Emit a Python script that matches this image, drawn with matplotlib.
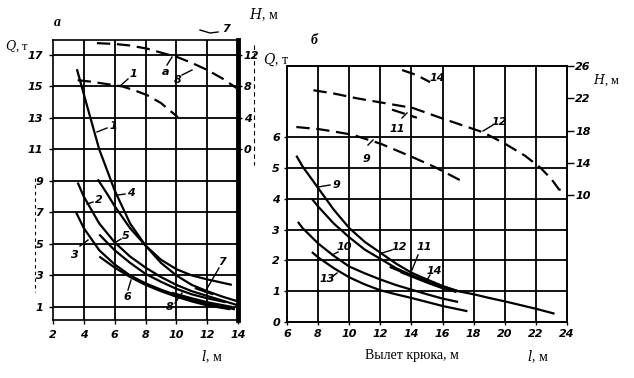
import matplotlib
matplotlib.use("Agg")
import matplotlib.pyplot as plt
from matplotlib.lines import Line2D

plt.rcParams["mathtext.fontset"] = "dejavuserif"

# ---------------- data: panel a ----------------
a_c1_x = [3.55, 4.2, 5.0, 6.0, 7.0, 8.0, 9.0, 10.0, 11.0, 12.0, 13.6]
a_c1_q = [16.1, 13.8, 11.0, 8.4, 6.3, 4.9, 4.0, 3.4, 3.0, 2.75, 2.4]
a_c4_x = [4.9, 5.5, 6.0, 7.0, 8.0, 9.0, 10.0, 11.0, 12.0, 13.0, 14.0]
a_c4_q = [9.1, 8.2, 7.4, 6.0, 4.9, 3.8, 3.0, 2.4, 2.0, 1.65, 1.35]
a_c2_x = [3.6, 4.0, 5.0, 6.0, 7.0, 8.0, 9.0, 10.0, 11.0, 12.0, 13.0, 14.0]
a_c2_q = [8.9, 8.0, 6.3, 5.1, 4.2, 3.5, 2.9, 2.4, 2.0, 1.7, 1.4, 1.1]
a_c3_x = [3.5, 4.0, 5.0, 6.0, 7.0, 8.0, 9.0, 10.0, 11.0, 12.0, 13.8]
a_c3_q = [7.0, 6.0, 4.6, 3.7, 3.0, 2.5, 2.1, 1.75, 1.45, 1.2, 0.85]
a_c5_x = [5.0, 6.0, 7.0, 8.0, 9.0, 10.0, 11.0, 12.0, 13.2]
a_c5_q = [5.6, 4.6, 3.8, 3.1, 2.6, 2.15, 1.8, 1.55, 1.3]
a_c6_x = [5.0, 6.0, 7.0, 8.0, 9.0, 10.0, 11.0, 12.0, 13.5]
a_c6_q = [4.2, 3.5, 2.9, 2.4, 2.0, 1.65, 1.35, 1.1, 0.85]
a_c7_x = [11.2, 12.4]
a_c7_q = [2.2, 1.8]
a_c8_x = [9.7, 11.0, 12.0, 13.6]
a_c8_q = [1.9, 1.55, 1.3, 1.0]
# heights (H, m) on right axis
a_h1_x = [3.6, 4.5, 5.5, 6.5, 7.3, 8.1, 9.0, 10.1]
a_h1_h = [8.8, 8.6, 8.3, 8.0, 7.5, 6.9, 5.9, 4.1]
a_h7_x = [4.85, 6.0, 7.0, 8.1, 9.0, 10.1, 11.0, 12.0, 13.0, 13.9]
a_h7_h = [13.5, 13.4, 13.2, 12.8, 12.3, 11.7, 11.0, 10.1, 9.0, 7.8]

a_xticks = [2, 4, 6, 8, 10, 12, 14]
a_qticks = [1, 3, 5, 7, 9, 11, 13, 15, 17]
a_hticks = [0, 4, 8, 12]

# ---------------- data: panel б ----------------
b_c9_x = [6.6, 7.0, 8.0, 9.0, 10.0, 11.0, 12.0, 13.0, 14.0, 15.0, 16.0, 17.0]
b_c9_q = [5.4, 5.05, 4.35, 3.65, 3.05, 2.6, 2.25, 1.9, 1.6, 1.38, 1.17, 1.0]
b_c12_x = [7.6, 8.0, 9.0, 10.0, 11.0, 12.0, 13.0, 14.0, 15.0, 16.0, 17.0, 18.0, 19.0, 20.0, 21.0, 22.0, 23.2]
b_c12_q = [4.0, 3.75, 3.2, 2.75, 2.35, 2.05, 1.75, 1.52, 1.33, 1.15, 1.0, 0.9, 0.78, 0.67, 0.55, 0.43, 0.27]
b_c11_x = [12.6, 13.5, 14.5, 15.5, 16.9]
b_c11_q = [1.79, 1.6, 1.4, 1.2, 0.97]
b_c14_x = [13.3, 14.0, 15.0, 16.2]
b_c14_q = [1.62, 1.48, 1.28, 1.06]
b_c10_x = [6.7, 7.0, 8.0, 9.0, 10.0, 11.0, 12.0, 13.0, 14.0, 15.0, 16.0, 17.0]
b_c10_q = [3.25, 3.05, 2.55, 2.15, 1.8, 1.58, 1.38, 1.2, 1.05, 0.9, 0.76, 0.65]
b_c13_x = [7.6, 8.0, 9.0, 10.0, 11.0, 12.0, 13.0, 14.0, 15.0, 16.0, 17.6]
b_c13_q = [2.27, 2.1, 1.75, 1.45, 1.22, 1.03, 0.9, 0.78, 0.65, 0.52, 0.35]
b_h14_x = [13.4, 14.3, 15.2]
b_h14_h = [25.5, 24.9, 24.0]
b_h11_x = [12.75, 14.35]
b_h11_h = [20.6, 19.6]
b_h12_x = [7.7, 9.0, 10.5, 12.0, 14.1, 16.0, 18.6, 20.0, 21.3, 22.3, 23.0, 23.5, 24.0]
b_h12_h = [23.0, 22.6, 22.0, 21.5, 20.8, 19.5, 17.8, 16.4, 14.9, 13.4, 12.0, 10.7, 10.7]
b_h9_x = [6.6, 8.0, 9.0, 10.2, 12.0, 14.1, 15.5, 16.5, 17.3]
b_h9_h = [18.45, 18.2, 17.9, 17.5, 16.4, 14.7, 13.5, 12.5, 11.7]

b_xticks = [6, 8, 10, 12, 14, 16, 18, 20, 22, 24]
b_qticks = [0, 1, 2, 3, 4, 5, 6]
b_hticks = [10, 14, 18, 22, 26]

# ---------------- figure ----------------
W, H = 634, 378
fig = plt.figure(figsize=(W / 100, H / 100), dpi=100)

def rect(x0, y0, x1, y1):
    return [x0 / W, 1 - y1 / H, (x1 - x0) / W, (y1 - y0) / H]

tickfont = dict(family="DejaVu Sans", style="italic", weight="bold", size=8)
serif = "Liberation Serif"
LW = 1.6
DASH = (0, (6, 3))

# ----- panel a -----
axa = fig.add_axes(rect(53, 40, 238, 320))
axa.set_xlim(2, 14)
axa.set_ylim(0.17, 17.95)
for v in [4, 6, 8, 10, 12]:
    axa.axvline(v, color="black", lw=1.3)
for v in a_qticks:
    axa.axhline(v, color="black", lw=1.3)
for s in ["left", "bottom", "top"]:
    axa.spines[s].set_linewidth(1.2)
axa.spines["right"].set_linewidth(3.5)
axa.set_xticks(a_xticks)
axa.set_xticklabels([str(v) for v in a_xticks], fontdict=tickfont)
axa.set_yticks(a_qticks)
axa.set_yticklabels([str(v) for v in a_qticks], fontdict=tickfont)
axa.tick_params(length=3, width=1, pad=4)

for xs, qs in [(a_c1_x, a_c1_q), (a_c4_x, a_c4_q), (a_c2_x, a_c2_q), (a_c3_x, a_c3_q),
               (a_c5_x, a_c5_q), (a_c6_x, a_c6_q), (a_c7_x, a_c7_q), (a_c8_x, a_c8_q)]:
    axa.plot(xs, qs, color="black", lw=LW, solid_capstyle="butt")

axa2 = axa.twinx()
axa2.set_ylim((0.17 - 11) * 2, (17.95 - 11) * 2)
axa2.set_yticks(a_hticks)
axa2.set_yticklabels([str(v) for v in a_hticks], fontdict=tickfont)
axa2.tick_params(length=3, width=1, pad=1)
for s in axa2.spines.values():
    s.set_visible(False)
axa2.plot(a_h1_x, a_h1_h, color="black", lw=LW, linestyle=DASH)
axa2.plot(a_h7_x, a_h7_h, color="black", lw=LW, linestyle=DASH)

# ----- panel б -----
axb = fig.add_axes(rect(287, 66, 567, 322))
axb.set_xlim(6, 24)
axb.set_ylim(0, 8.31)
for v in range(8, 24, 2):
    axb.axvline(v, color="black", lw=1.3)
for v in range(1, 7):
    axb.axhline(v, color="black", lw=1.3)
for s in axb.spines.values():
    s.set_linewidth(1.4)
axb.set_xticks(b_xticks)
axb.set_xticklabels([str(v) for v in b_xticks], fontdict=tickfont)
axb.set_yticks(b_qticks)
axb.set_yticklabels([str(v) for v in b_qticks], fontdict=tickfont)
axb.tick_params(length=2, width=1, pad=3)

for xs, qs in [(b_c9_x, b_c9_q), (b_c12_x, b_c12_q), (b_c11_x, b_c11_q), (b_c14_x, b_c14_q),
               (b_c10_x, b_c10_q), (b_c13_x, b_c13_q)]:
    axb.plot(xs, qs, color="black", lw=LW, solid_capstyle="butt")

axb2 = axb.twinx()
axb2.set_ylim(-5.67, 26)
axb2.set_yticks(b_hticks)
axb2.set_yticklabels([str(v) for v in b_hticks], fontdict=tickfont)
axb2.tick_params(length=5, width=1, pad=1)
for s in axb2.spines.values():
    s.set_visible(False)
for xs, hs in [(b_h14_x, b_h14_h), (b_h11_x, b_h11_h), (b_h12_x, b_h12_h), (b_h9_x, b_h9_h)]:
    axb2.plot(xs, hs, color="black", lw=LW, linestyle=DASH)

# ----- curve labels with leaders (positions in pixels) -----
lab = dict(family="DejaVu Sans", style="italic", weight="bold", size=8)

def label(txt, tx, ty, leader=None):
    fig.text(tx / W, 1 - ty / H, txt, ha="center", va="center", fontdict=lab)
    if leader:
        xs = [p[0] / W for p in leader]
        ys = [1 - p[1] / H for p in leader]
        fig.add_artist(Line2D(xs, ys, color="black", lw=1.0))

label("1", 133, 74, [(128, 79), (120, 86)])
label("1", 113, 126, [(107, 128), (97, 132)])
label("4", 131, 193, [(125, 194), (118, 195)])
label("2", 99, 200, [(93, 202), (87, 204)])
label("3", 75, 255, [(80, 246), (88, 240)])
label("5", 126, 236, [(121, 239), (116, 242)])
label("6", 127, 297, [(128, 290), (131, 280)])
label("7", 222, 262, [(219, 268), (205, 292)])
label("8", 170, 307, [(175, 303), (182, 293)])
label("7", 226, 29, [(200, 30), (210, 33), (218, 32)])
label("а", 166, 72, [(167, 65), (172, 57)])
label("8", 178, 80, [(182, 75), (192, 70)])

label("14", 437, 78)
label("11", 397, 129, [(402, 118), (407, 113)])
label("12", 499, 122, [(493, 125), (483, 131)])
label("9", 366, 159, [(368, 145), (373, 140)])
label("9", 336, 185, [(330, 185), (318, 187)])
label("10", 344, 247, [(338, 252), (332, 255)])
label("13", 327, 279, [(332, 277), (337, 273)])
label("12", 399, 247, [(392, 250), (382, 253)])
label("11", 424, 247, [(418, 255), (412, 270)])
label("14", 434, 271, [(430, 275), (427, 280)])

# ----- axis titles -----
fig.text(57 / W, 1 - 22 / H, "а", ha="center", va="center", family=serif, size=10, style="italic", weight="bold")
fig.text(314 / W, 1 - 40 / H, "б", ha="center", va="center", family=serif, size=10, style="italic", weight="bold")
fig.text(17 / W, 1 - 46 / H, r"$Q$, т", ha="center", va="center", family=serif, size=9)
fig.text(264 / W, 1 - 15 / H, r"$H$, м", ha="center", va="center", family=serif, size=10)
fig.text(276 / W, 1 - 60 / H, r"$Q$, т", ha="center", va="center", family=serif, size=10)
fig.text(606 / W, 1 - 80 / H, r"$H$, м", ha="center", va="center", family=serif, size=9)
fig.text(212 / W, 1 - 357 / H, r"$l$, м", ha="center", va="center", family=serif, size=10)
fig.text(538 / W, 1 - 357 / H, r"$l$, м", ha="center", va="center", family=serif, size=10)
fig.text(412 / W, 1 - 355 / H, "Вылет крюка, м", ha="center", va="center", family=serif, size=10)

# faint dashed scan rules
fig.add_artist(Line2D([35 / W, 35 / W], [1 - 178 / H, 1 - 292 / H], color="black", lw=0.8, linestyle=(0, (3, 3))))
fig.add_artist(Line2D([254 / W, 254 / W], [1 - 45 / H, 1 - 165 / H], color="black", lw=0.8, linestyle=(0, (4, 3))))

fig.savefig("out.png", dpi=100)
